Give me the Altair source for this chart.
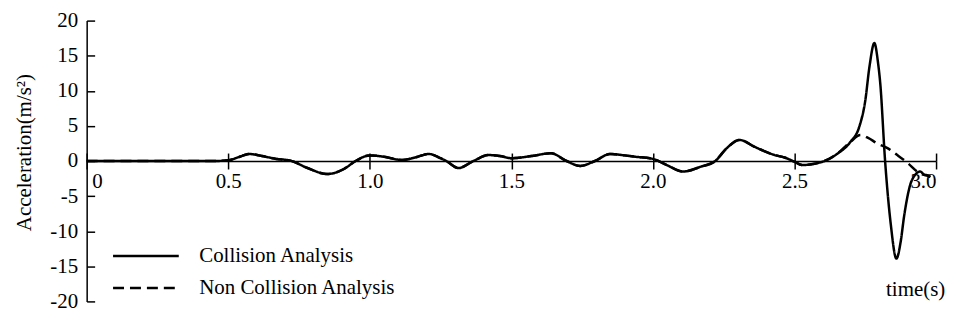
import altair as alt
import pandas as pd

SERIES = ["Collision Analysis", "Non Collision Analysis"]

# shared part of both analyses (s, m/s^2)
time_shared = [0.0, 0.3, 0.45, 0.5, 0.54, 0.574, 0.62, 0.67, 0.72, 0.78, 0.85, 0.91, 0.95,
               1.0, 1.05, 1.113, 1.16, 1.208, 1.25, 1.27, 1.313, 1.366, 1.42, 1.46, 1.5,
               1.57, 1.64, 1.695, 1.743, 1.795, 1.849, 1.9, 1.94, 2.0, 2.05, 2.106, 2.17,
               2.22, 2.26, 2.306, 2.36, 2.43, 2.465, 2.5, 2.528, 2.57, 2.606, 2.65, 2.697]
accel_shared = [0.0, 0.0, 0.0, 0.1, 0.6, 1.0, 0.7, 0.3, 0.05, -1.0, -1.85, -1.1, 0.0,
                0.8, 0.6, 0.15, 0.5, 1.0, 0.4, 0.0, -1.0, 0.0, 0.85, 0.7, 0.4,
                0.7, 1.1, 0.0, -0.7, 0.0, 1.0, 0.8, 0.6, 0.3, -0.6, -1.5, -0.8,
                0.0, 1.8, 3.0, 2.0, 0.85, 0.5, -0.1, -0.57, -0.4, 0.0, 1.0, 2.7]

# collision analysis tail
time_coll_tail = [2.729, 2.75, 2.765, 2.782, 2.795, 2.803, 2.82, 2.84, 2.86, 2.875,
                  2.887, 2.915, 2.944, 2.96, 2.98]
accel_coll_tail = [4.9, 8.6, 13.5, 16.8, 14.0, 11.0, 0.0, -9.0, -13.9, -11.5,
                   -7.9, -2.7, -1.5, -2.0, -2.1]

# non collision analysis tail
time_non_tail = [2.733, 2.76, 2.792, 2.83, 2.863, 2.9, 2.933, 2.95, 2.965, 2.98]
accel_non_tail = [3.7, 3.3, 2.5, 1.8, 0.85, -0.3, -1.5, -1.9, -2.0, -2.3]

x_ticks = [0, 0.5, 1.0, 1.5, 2.0, 2.5, 3.0]
y_ticks = [-20, -15, -10, -5, 0, 5, 10, 15, 20]

t_c = time_shared + time_coll_tail
a_c = accel_shared + accel_coll_tail
t_n = time_shared + time_non_tail
a_n = accel_shared + accel_non_tail

df = pd.concat([
    pd.DataFrame({"t": t_n, "a": a_n, "series": SERIES[1], "ord": range(len(t_n))}),
    pd.DataFrame({"t": t_c, "a": a_c, "series": SERIES[0], "ord": range(len(t_c))}),
])

FONT = "Liberation Serif"
W, H = 853, 282
xs = alt.Scale(domain=[0, 3], nice=False, zero=False)
ys = alt.Scale(domain=[-20, 20], nice=False, zero=False)

base = alt.Chart(df)

lines = base.mark_line(interpolate="monotone", strokeWidth=2.5, color="black").encode(
    x=alt.X("t:Q", scale=xs, axis=alt.Axis(
        orient="bottom", offset=-H / 2, values=x_ticks, tickSize=8,
        labelExpr="datum.value == 0 ? '0' : format(datum.value, '.1f')",
        labelOffset={"condition": {"test": "datum.value == 0", "value": 5}, "value": 0},
        labelPadding=2, title="time(s)", titleX=832, titleY=118,
        labelFont=FONT, titleFont=FONT,
        titleAlign="center", titleFontWeight="normal")),
    y=alt.Y("a:Q", scale=ys, axis=alt.Axis(
        orient="left", values=y_ticks, ticks=False, tickSize=0, labelPadding=9,
        labelExpr="datum.value < 0 ? '-' + abs(datum.value) : '' + datum.value",
        labelFont=FONT, titleFont=FONT,
        title="Acceleration(m/s²)", titleX=-62, titleY=132, titleAlign="center",
        titleBaseline="middle", titleFontWeight="normal")),
    strokeDash=alt.StrokeDash("series:N", scale=alt.Scale(domain=SERIES, range=[[1, 0], [11, 6]]),
                              legend=alt.Legend(orient="none", legendX=47, legendY=224, title=None,
                                                symbolType="M-3,0H3", symbolSize=484,
                                                symbolStrokeWidth=2.5, symbolStrokeColor="black",
                                                labelOffset=41, rowPadding=9, padding=0, labelLimit=0,
                                                labelFont=FONT, labelFontSize=21, labelColor="black")),
    order=alt.Order("ord:Q"),
)

tick_layer = base.mark_point(opacity=0).encode(
    x=alt.X("t:Q", scale=xs, axis=alt.Axis(orient="top", offset=-H / 2, values=x_ticks,
                                           tickSize=8, labels=False, domain=False, title=None)),
    y=alt.Y("a:Q", scale=ys, axis=alt.Axis(orient="right", offset=-W, values=y_ticks,
                                           tickSize=8, labels=False, domain=False, title=None)),
)

chart = alt.layer(lines, tick_layer).resolve_axis(x="independent", y="independent").properties(
    width=W, height=H,
    autosize=alt.AutoSizeParams(type="none"),
    padding={"left": 79, "top": 12, "right": 15, "bottom": 14},
).configure(font=FONT).configure_view(stroke=None).configure_axis(
    grid=False, domainColor="black", domainWidth=1.5, tickColor="black", tickWidth=1.5,
    labelFont=FONT, labelFontSize=21, labelColor="black",
    titleFont=FONT, titleFontSize=21, titleColor="black",
).configure_legend(labelFont=FONT)

chart.save("out.html", embed_options={"renderer": "svg", "actions": False})
